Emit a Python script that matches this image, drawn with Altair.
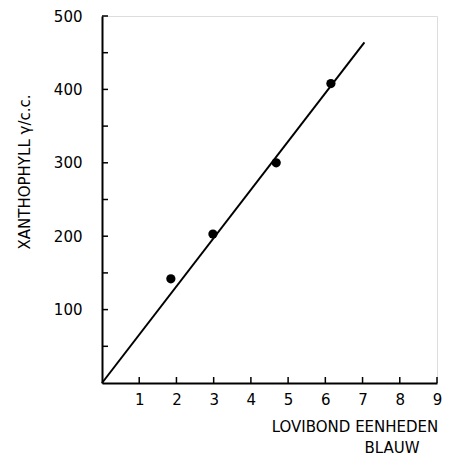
import altair as alt
import pandas as pd

# data
x_pts = [1.85, 2.98, 4.68, 6.15]
y_pts = [142, 203, 300, 408]
fit_x = [0, 7.05]
fit_y = [0, 464]
x_ticks = [1, 2, 3, 4, 5, 6, 7, 8, 9]
y_ticks = [50, 100, 150, 200, 250, 300, 350, 400, 450, 500]
y_labels = [100, 200, 300, 400, 500]
x_title = "LOVIBOND EENHEDEN"
x_title2 = "BLAUW"
y_title = "XANTHOPHYLL  γ/c.c."

FONT = "DejaVu Sans"
W, H = 335, 367

xs = alt.Scale(domain=[0, 9], nice=False, zero=True)
ys = alt.Scale(domain=[0, 500], nice=False, zero=True)

pts = pd.DataFrame({"x": x_pts, "y": y_pts})
fit = pd.DataFrame({"x": fit_x, "y": fit_y})
xt = pd.DataFrame({"x": x_ticks})
yt = pd.DataFrame({"y": y_ticks})

x_axis = alt.Axis(values=x_ticks, ticks=False, grid=False, title=None,
                  domainColor="black", domainWidth=2, labelColor="black",
                  labelFont=FONT, labelFontSize=15, labelPadding=9,
                  labelFlush=False)
y_axis = alt.Axis(values=y_labels, ticks=False, grid=False, title=None,
                  domainColor="black", domainWidth=2, labelColor="black",
                  labelFont=FONT, labelFontSize=15, labelPadding=20,
                  labelFlush=False)

base_line = alt.Chart(fit).mark_line(color="black", strokeWidth=2).encode(
    x=alt.X("x:Q", scale=xs, axis=x_axis),
    y=alt.Y("y:Q", scale=ys, axis=y_axis),
)

points = alt.Chart(pts).mark_circle(color="black", opacity=1, size=85).encode(
    x=alt.X("x:Q", scale=xs),
    y=alt.Y("y:Q", scale=ys),
)

xtick = alt.Chart(xt).mark_rule(color="black", strokeWidth=1.5).encode(
    x=alt.X("x:Q", scale=xs),
    y=alt.value(H),
    y2=alt.value(H - 6),
)

ytick = alt.Chart(yt).mark_rule(color="black", strokeWidth=1.5).encode(
    y=alt.Y("y:Q", scale=ys),
    x=alt.value(0),
    x2=alt.value(6),
)

def label(txt, px, py, angle=0, size=15):
    return alt.Chart(pd.DataFrame({"t": [txt]})).mark_text(
        font=FONT, fontSize=size, color="black", angle=angle,
        align="center", baseline="middle"
    ).encode(text="t:N", x=alt.value(px), y=alt.value(py))

t1 = label(x_title, 253, 411, size=15)
t2 = label(x_title2, 290, 432, size=15)
t3 = label(y_title, -77, 156, angle=270, size=15)

chart = alt.layer(base_line, points, xtick, ytick, t1, t2, t3).properties(
    width=W, height=H,
    autosize=alt.AutoSizeParams(type="none"),
    padding={"left": 102, "top": 16, "right": 14, "bottom": 74},
).configure_view(stroke=None).configure(background="white")

chart.save("out.html", embed_options={"renderer": "svg", "actions": False})
